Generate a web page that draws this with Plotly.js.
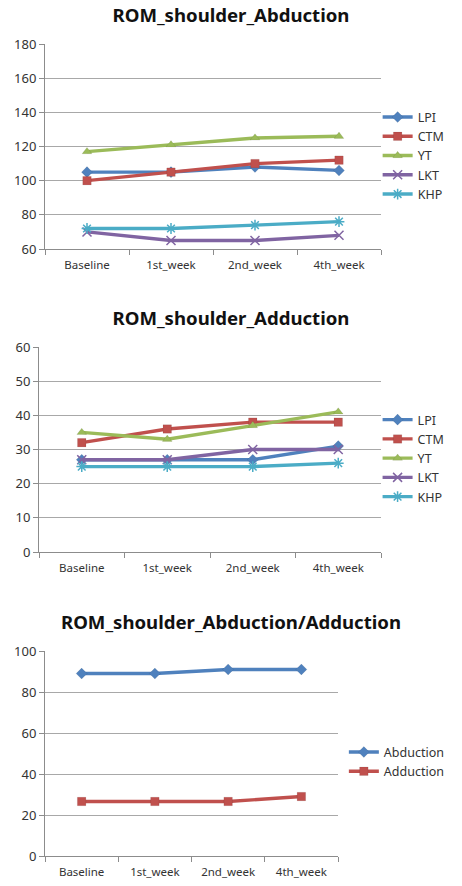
<!DOCTYPE html>
<html>
<head>
<meta charset="utf-8">
<script src="https://cdn.plot.ly/plotly-3.0.1.min.js"></script>
<style>
  html, body { margin: 0; padding: 0; background: #fff; width: 462px; height: 886px; overflow: hidden; }
  .c { position: absolute; left: 0; width: 462px; }
</style>
</head>
<body>
<div id="c1" class="c" style="top:0px;height:290px;"></div>
<div id="c2" class="c" style="top:295px;height:290px;"></div>
<div id="c3" class="c" style="top:600px;height:286px;"></div>
<script>
// ---- data ----
const categories = ["Baseline", "1st_week", "2nd_week", "4th_week"];

const abductionTitle = "ROM_shoulder_Abduction";
const abdLPI = [105, 105, 108, 106];
const abdCTM = [100, 105, 110, 112];
const abdYT  = [117, 121, 125, 126];
const abdLKT = [70, 65, 65, 68];
const abdKHP = [72, 72, 74, 76];

const adductionTitle = "ROM_shoulder_Adduction";
const addLPI = [27, 27, 27, 31];
const addCTM = [32, 36, 38, 38];
const addYT  = [35, 33, 37, 41];
const addLKT = [27, 27, 30, 30];
const addKHP = [25, 25, 25, 26];

const bothTitle = "ROM_shoulder_Abduction/Adduction";
const meanAbduction = [89, 89, 91, 91];
const meanAdduction = [26.6, 26.6, 26.6, 29];

const seriesNames = ["LPI", "CTM", "YT", "LKT", "KHP"];
const bothNames = ["Abduction", "Adduction"];

// ---- styling ----
const colors = ["#4F81BD", "#C0504D", "#9BBB59", "#8064A2", "#4BACC6"];
const symbols = ["diamond", "square", "triangle-up", "x-thin-open", "asterisk-open"];
const FONT = "Noto Sans, Liberation Sans, sans-serif";
const TEXTC = "#333333";

function trace(name, y, i) {
  const open = symbols[i].indexOf("open") >= 0;
  return {
    type: "scatter", mode: "lines+markers", name: name,
    x: categories, y: y,
    line: { color: colors[i], width: 3.4 },
    marker: {
      symbol: symbols[i], size: open ? 9 : 8.5, color: colors[i],
      line: { color: open ? colors[i] : "rgba(0,0,0,0.15)", width: open ? 1.5 : 0.5 }
    }
  };
}

function layout(title, titleY, yrange, dtick, m, legX, legY) {
  return {
    width: 462, height: m.h,
    paper_bgcolor: "#ffffff", plot_bgcolor: "#ffffff",
    margin: { l: m.l, r: m.r, t: m.t, b: m.b, pad: 0 },
    title: { text: "<b>" + title + "</b>", x: 0.5, xref: "container", xanchor: "center",
             y: 1 - titleY / m.h, yanchor: "middle", yref: "container",
             font: { family: FONT, size: 18.6, color: "#111111" } },
    showlegend: true,
    legend: { x: legX, xanchor: "left", y: legY, yanchor: "middle",
              font: { family: FONT, size: 12.5, color: TEXTC },
              bgcolor: "rgba(0,0,0,0)", tracegroupgap: 0, itemwidth: 30 },
    xaxis: {
      type: "category", range: [-0.5, categories.length - 0.5],
      showgrid: false, showline: true, linecolor: "#8c8c8c", linewidth: 1,
      ticks: "outside", tickson: "boundaries", ticklen: 5, tickcolor: "#8c8c8c",
      ticklabelstandoff: 5,
      tickfont: { family: FONT, size: 11.5, color: TEXTC }, fixedrange: true, zeroline: false
    },
    yaxis: {
      range: yrange, dtick: dtick, tick0: 0,
      showgrid: true, gridcolor: "#a8a8a8", gridwidth: 1,
      showline: true, linecolor: "#8c8c8c", linewidth: 1,
      ticks: "outside", ticklen: 5, tickcolor: "#8c8c8c",
      ticklabelstandoff: 0,
      tickfont: { family: FONT, size: 13, color: TEXTC }, zeroline: false, fixedrange: true
    }
  };
}

const cfg = { displayModeBar: false, staticPlot: true };

Plotly.newPlot("c1",
  seriesNames.map((n, i) => trace(n, [abdLPI, abdCTM, abdYT, abdLKT, abdKHP][i], i)),
  layout(abductionTitle, 15, [60, 180], 20, { h: 290, l: 45, r: 67, t: 44, b: 41 }, 0.99, 0.454),
  cfg);

Plotly.newPlot("c2",
  seriesNames.map((n, i) => trace(n, [addLPI, addCTM, addYT, addLKT, addKHP][i], i)),
  layout(adductionTitle, 23, [0, 60], 10, { h: 290, l: 39, r: 67, t: 52, b: 33 }, 0.99, 0.456),
  cfg);

Plotly.newPlot("c3",
  bothNames.map((n, i) => trace(n, [meanAbduction, meanAdduction][i], i)),
  layout(bothTitle, 22, [0, 100], 20, { h: 286, l: 45, r: 100, t: 51, b: 30 }, 1.02, 0.459),
  cfg);
</script>
</body>
</html>
